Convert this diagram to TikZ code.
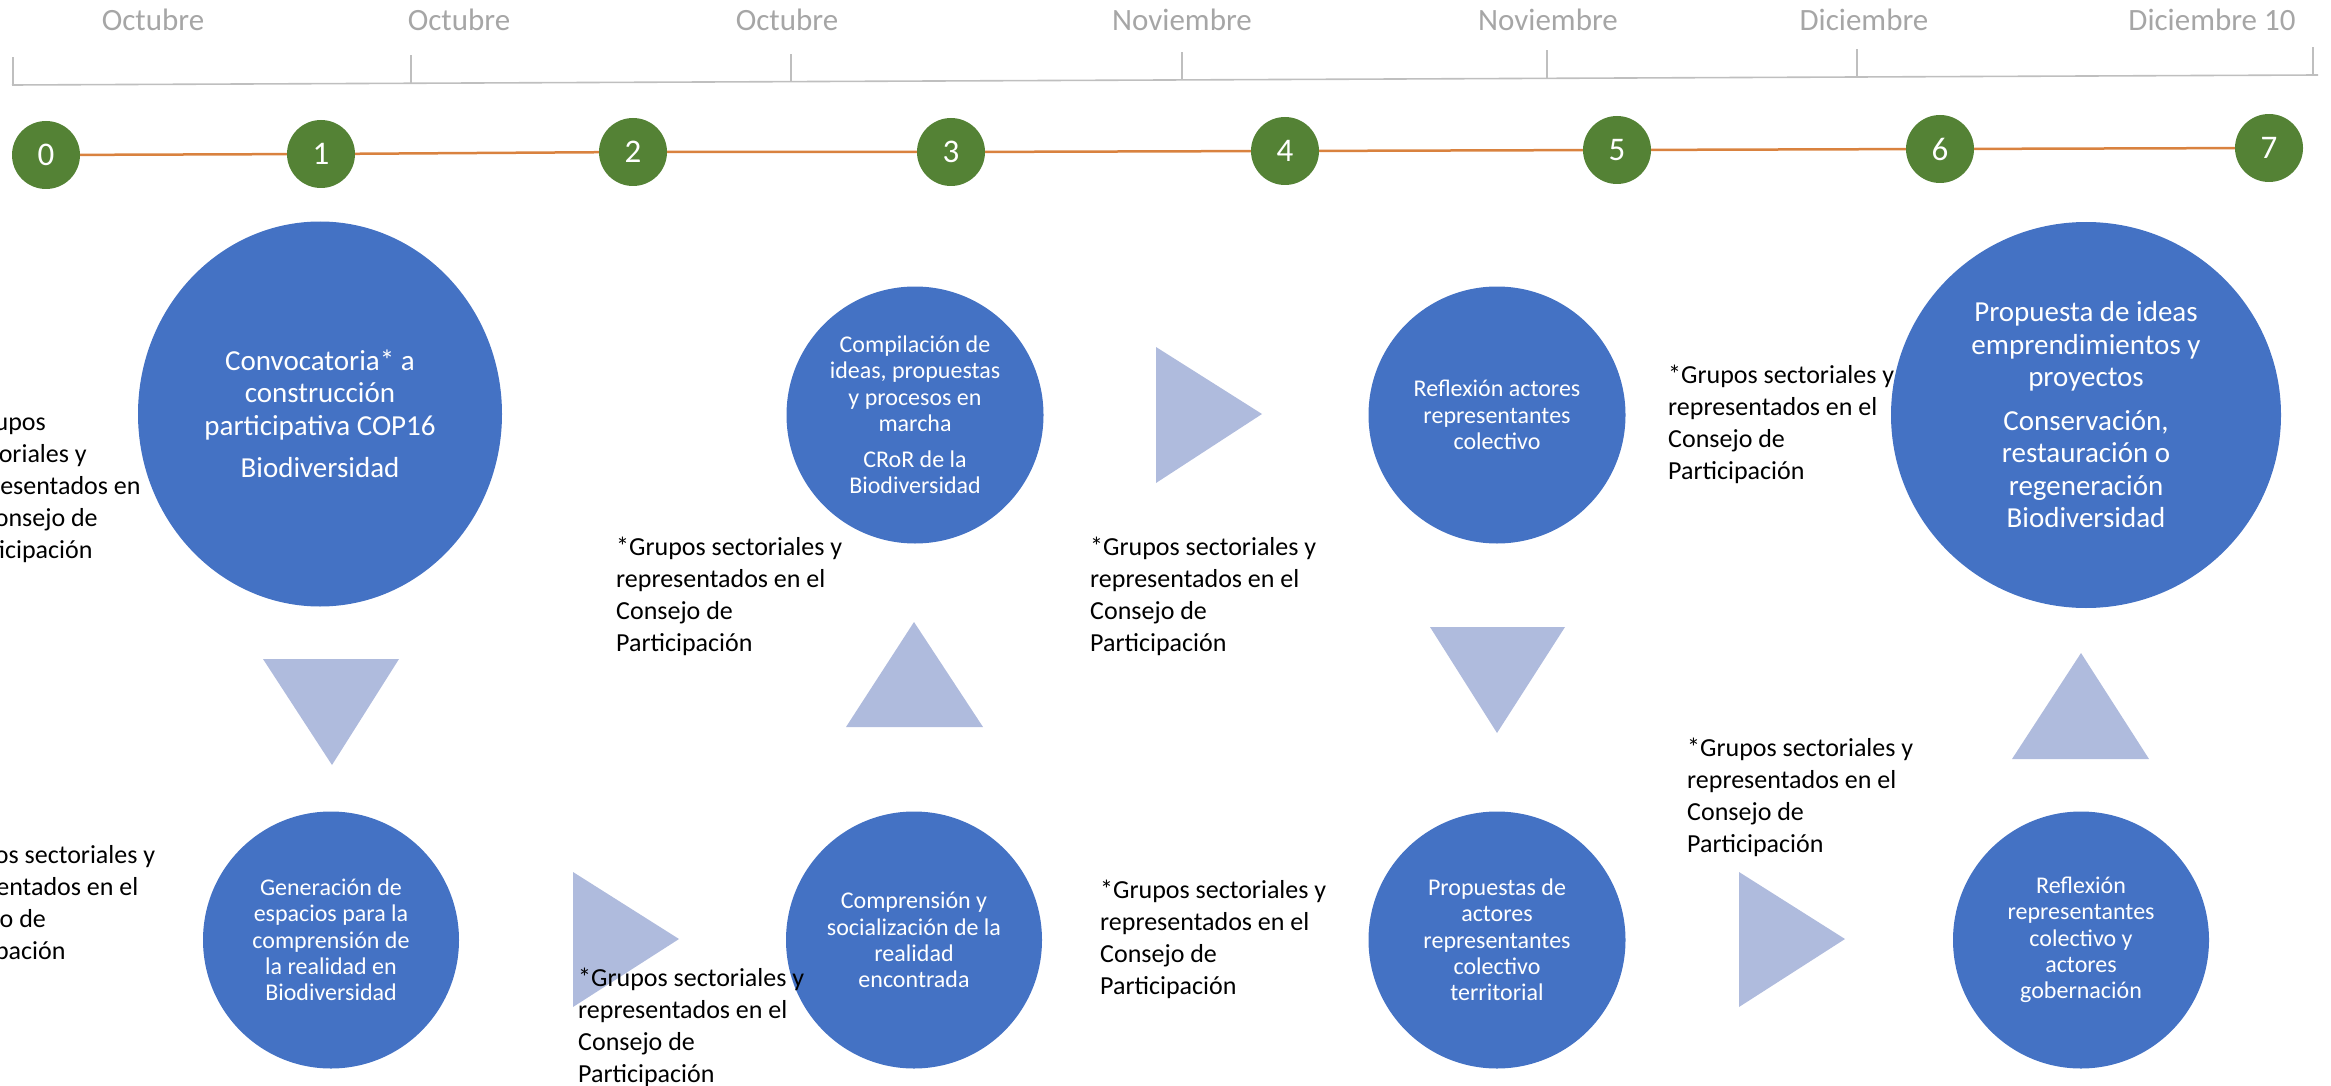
\documentclass[tikz,border=0pt]{standalone}
\usepackage{fontspec}
\setmainfont{Carlito}
\usetikzlibrary{shapes.geometric}
\definecolor{cblue}{HTML}{4472C4}
\definecolor{cgreen}{HTML}{548235}
\definecolor{ctri}{HTML}{AFBBDD}
\definecolor{cgray}{HTML}{A6A6A6}
\definecolor{caxis}{HTML}{BFBFBF}
\definecolor{corange}{HTML}{D9823F}
\begin{document}
\begin{tikzpicture}[x=1pt,y=-1pt,
  bubble/.style={ellipse, fill=cblue, inner sep=0pt},
  bigtxt/.style={text=white, align=center, inner sep=0pt, font=\fontsize{29}{32.5}\selectfont},
  smalltxt/.style={text=white, align=center, inner sep=0pt, font=\fontsize{24}{26.3}\selectfont},
  stepnum/.style={circle, fill=cgreen, text=white, minimum size=68pt, inner sep=0pt, font=\fontsize{33}{33}\selectfont},
  month/.style={anchor=base, text=cgray, inner sep=0pt, font=\fontsize{31}{31}\selectfont},
  note/.style={anchor=base west, align=left, inner sep=0pt, font=\fontsize{26}{32}\selectfont},
  arrowtri/.style={fill=ctri},
  axisline/.style={draw=caxis, line width=1.6pt},
  timeline/.style={draw=corange, line width=2.5pt}
]
\useasboundingbox (0,0) rectangle (2331,1086);
\clip (0,0) rectangle (2331,1086);

% top axis
\draw[axisline] (12,85) -- (2318,75);
\foreach \x/\y in {13/85, 411/83.3, 791/81.6, 1182/79.9, 1547/78.3, 1857/77, 2313/75}
  \draw[axisline] (\x,\y) -- (\x,\y-28);

\node[month] (m1) at (153,31) {Octubre};
\node[month] (m2) at (459,31) {Octubre};
\node[month] (m3) at (787,31) {Octubre};
\node[month] (m4) at (1182,31) {Noviembre};
\node[month] (m5) at (1548,31) {Noviembre};
\node[month] (m6) at (1864,31) {Diciembre};
\node[month] (m7) at (2212,31) {Diciembre 10};

% step circles
\node[stepnum] (s0) at (46,155) {0};
\node[stepnum] (s1) at (321,154) {1};
\node[stepnum] (s2) at (633,152) {2};
\node[stepnum] (s3) at (951,152) {3};
\node[stepnum] (s4) at (1285,151) {4};
\node[stepnum] (s5) at (1617,150) {5};
\node[stepnum] (s6) at (1940,149) {6};
\node[stepnum] (s7) at (2269,148) {7};
\draw[timeline] (s0) -- (s1) -- (s2) -- (s3) -- (s4) -- (s5) -- (s6) -- (s7);

% triangles
\fill[arrowtri] (263,659) -- (399,659) -- (332,765) -- cycle;
\fill[arrowtri] (573,872) -- (573,1007) -- (679,939) -- cycle;
\fill[arrowtri] (914,622) -- (846,727) -- (983,727) -- cycle;
\fill[arrowtri] (1156,347) -- (1156,483) -- (1262,414) -- cycle;
\fill[arrowtri] (1430,627) -- (1565,627) -- (1497,733) -- cycle;
\fill[arrowtri] (1739,872) -- (1739,1007) -- (1845,939) -- cycle;
\fill[arrowtri] (2081,653) -- (2012,759) -- (2149,759) -- cycle;

% bubbles
\node[bubble, minimum width=364pt, minimum height=385pt] (A) at (320,414) {};
\node[bigtxt] (At) at (A) {Convocatoria* a\\construcción\\participativa COP16\\[10pt]Biodiversidad};

\node[bubble, minimum width=256pt, minimum height=257pt] (B) at (331,940) {};
\node[smalltxt] (Bt) at (B) {Generación de\\espacios para la\\comprensión de\\la realidad en\\Biodiversidad};

\node[bubble, minimum width=257pt, minimum height=257pt] (C) at (915,415) {};
\node[smalltxt] (Ct) at (C) {Compilación de\\ideas, propuestas\\y procesos en\\marcha\\[10pt]CRoR de la\\Biodiversidad};

\node[bubble, minimum width=257pt, minimum height=257pt] (D) at (1497,415) {};
\node[smalltxt] (Dt) at (D) {Reflexión actores\\representantes\\colectivo};

\node[bubble, minimum width=256pt, minimum height=257pt] (E) at (914,940) {};
\node[smalltxt] (Et) at (E) {Comprensión y\\socialización de la\\realidad\\encontrada};

\node[bubble, minimum width=257pt, minimum height=257pt] (F) at (1497,940) {};
\node[smalltxt] (Ft) at (F) {Propuestas de\\actores\\representantes\\colectivo\\territorial};

\node[bubble, minimum width=256pt, minimum height=257pt] (G) at (2081,940) {};
\node[smalltxt] (Gt) at (G) {Reflexión\\representantes\\colectivo y\\actores\\gobernación};

\node[bubble, minimum width=390pt, minimum height=386pt] (H) at (2086,415) {};
\node[bigtxt] (Ht) at (H) {Propuesta de ideas\\emprendimientos y\\proyectos\\[11pt]Conservación,\\restauración o\\regeneración\\Biodiversidad};

% notes (anchor = baseline of last line)
\node[note] (n1) at (-44,558) {*Grupos\\sectoriales y\\representados en\\el Consejo de\\Participación};
\node[note] (n2) at (-71,959) {*Grupos sectoriales y\\representados en el\\Consejo de\\Participación};
\node[note] (n3) at (616,651) {*Grupos sectoriales y\\representados en el\\Consejo de\\Participación};
\node[note] (n4) at (1090,651) {*Grupos sectoriales y\\representados en el\\Consejo de\\Participación};
\node[note] (n5) at (1668,479) {*Grupos sectoriales y\\representados en el\\Consejo de\\Participación};
\node[note] (n6) at (578,1082) {*Grupos sectoriales y\\representados en el\\Consejo de\\Participación};
\node[note] (n7) at (1100,994) {*Grupos sectoriales y\\representados en el\\Consejo de\\Participación};
\node[note] (n8) at (1687,852) {*Grupos sectoriales y\\representados en el\\Consejo de\\Participación};
\end{tikzpicture}
\end{document}
